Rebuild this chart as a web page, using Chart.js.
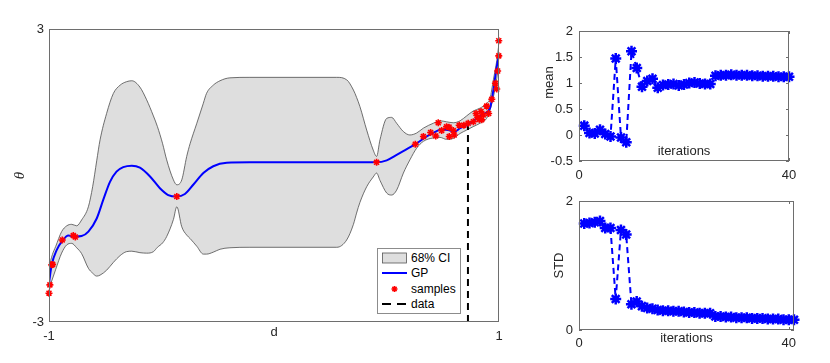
<!DOCTYPE html>
<html>
<head>
<meta charset="utf-8">
<script src="https://cdn.jsdelivr.net/npm/chart.js@4.4.1/dist/chart.umd.min.js"></script>
<style>
  body { margin: 0; background: #fff; }
  #wrap { position: relative; width: 830px; height: 363px; overflow: hidden; }
  #wrap canvas { position: absolute; }
  #legend {
    position: absolute; left: 377px; top: 248px; width: 84px; height: 66px;
    box-sizing: border-box; border: 1px solid #8c8c8c; background: #fff;
    padding-top: 1px; font: 12px "Liberation Sans", Arial, sans-serif; color: #000;
  }
  #legend .row { display: flex; align-items: center; height: 15.5px; }
  #legend svg { margin: 0 4px 0 4px; flex: none; }
</style>
</head>
<body>
<div id="wrap">
  <canvas id="gpChart" width="520" height="363" style="left:0;top:0"></canvas>
  <canvas id="meanChart" width="310" height="180" style="left:520px;top:0"></canvas>
  <canvas id="stdChart" width="310" height="183" style="left:520px;top:180px"></canvas>
  <div id="legend"></div>
</div>
<script>
// ---- GP panel data ----
const gpD = [-1.0, -0.988, -0.966, -0.941, -0.914, -0.884, -0.855, -0.825, -0.788, -0.759, -0.729, -0.70,
  -0.67, -0.632, -0.596, -0.551, -0.507, -0.47, -0.432, -0.396, -0.359, -0.314, -0.27, -0.21, -0.107,
  0.456, 0.501, 0.545, 0.59, 0.628, 0.679, 0.723, 0.745, 0.774, 0.803, 0.827, 0.868, 0.901, 0.93,
  0.96, 0.975, 0.99, 1.0];
const gpMean = [-2.20, -1.83, -1.53, -1.34, -1.23, -1.25, -1.24, -1.15, -0.88, -0.50, -0.13, 0.08,
  0.17, 0.20, 0.16, -0.02, -0.26, -0.40, -0.43, -0.38, -0.19, 0.05, 0.19, 0.26, 0.27,
  0.27, 0.31, 0.42, 0.54, 0.64, 0.80, 0.91, 0.94, 0.93, 0.90, 0.97, 1.05, 1.17, 1.26,
  1.38, 1.75, 2.23, 2.47];

const ciD = [-1.0, -0.985, -0.97, -0.944, -0.921, -0.899, -0.877, -0.855, -0.825, -0.806, -0.788, -0.773,
  -0.744, -0.714, -0.684, -0.656, -0.632, -0.596, -0.566, -0.536, -0.518, -0.495, -0.477, -0.447, -0.432,
  -0.41, -0.388, -0.373, -0.343, -0.314, -0.30, -0.27, -0.24, -0.196, -0.107, 0.279, 0.323, 0.353, 0.367,
  0.382, 0.412, 0.441, 0.456, 0.471, 0.501, 0.523, 0.545, 0.575, 0.604, 0.634, 0.664, 0.708, 0.738,
  0.767, 0.797, 0.827, 0.856, 0.885, 0.916, 0.945, 0.96, 0.975, 0.99, 1.0];
const ciUpper = [-1.87, -1.62, -1.45, -1.15, -1.03, -1.00, -1.03, -0.91, -0.64, -0.23, 0.30, 0.73,
  1.27, 1.68, 1.85, 1.92, 1.94, 1.81, 1.55, 1.22, 1.00, 0.65, 0.32, -0.09, -0.19,
  -0.09, 0.39, 0.65, 1.07, 1.48, 1.68, 1.85, 1.94, 2.00, 2.01, 2.01, 1.96, 1.75, 1.60,
  1.41, 0.93, 0.52, 0.39, 0.73, 1.17, 1.19, 1.07, 0.90, 0.83, 0.87, 0.97, 1.07, 1.12,
  1.10, 1.08, 1.12, 1.22, 1.32, 1.38, 1.48, 1.58, 1.96, 2.35, 2.71];
const ciLower = [-2.32, -2.12, -1.92, -1.59, -1.42, -1.39, -1.48, -1.60, -1.90, -2.00, -2.06, -2.04,
  -1.94, -1.78, -1.64, -1.56, -1.55, -1.58, -1.59, -1.56, -1.47, -1.38, -1.25, -0.90, -0.64,
  -1.05, -1.22, -1.29, -1.45, -1.61, -1.61, -1.57, -1.51, -1.48, -1.47, -1.47, -1.32, -1.00, -0.77,
  -0.55, -0.23, -0.03, 0.05, -0.10, -0.36, -0.40, -0.30, 0.05, 0.32, 0.56, 0.70, 0.77, 0.78,
  0.74, 0.76, 0.86, 0.93, 1.00, 1.07, 1.17, 1.34, 1.61, 1.98, 2.37];

const sampleD = [-1.0, -0.996, -0.988, -0.984, -0.941, -0.892, -0.883, -0.432, 0.456, 0.628, 0.664, 0.696,
  0.719, 0.730, 0.745, 0.767, 0.778, 0.779, 0.797, 0.801, 0.823, 0.844, 0.863, 0.886, 0.898, 0.905,
  0.912, 0.920, 0.923, 0.930, 0.945, 0.954, 0.968, 0.984, 0.990, 0.994, 0.999, 0.999];
const sampleTheta = [-2.41, -2.24, -1.83, -1.82, -1.32, -1.23, -1.26, -0.43, 0.27, 0.64, 0.80, 0.88,
  0.81, 1.08, 0.92, 1.00, 0.99, 0.80, 0.92, 0.83, 1.03, 1.03, 1.07, 1.10, 1.27, 1.19,
  1.15, 1.31, 1.14, 1.24, 1.42, 1.27, 1.56, 1.89, 1.77, 2.14, 2.45, 2.76];

const dataLineD = [0.862, 0.862];
const dataLineTheta = [-3, 1.03];

const gpXTicks = [-1, 1];
const gpYTicks = [-3, 3];
const legendLabels = ["68% CI", "GP", "samples", "data"];

// ---- iteration panels ----
const meanIter = [1, 2, 3, 4, 5, 6, 7, 8, 9, 10, 11, 12, 13, 14, 15, 16, 17, 18, 19, 20,
  21, 22, 23, 24, 25, 26, 27, 28, 29, 30, 31, 32, 33, 34, 35, 36, 37, 38, 39, 40];
const meanVals = [0.18, 0.04, 0.03, 0.10, 0.02, -0.03, 1.47, -0.05, -0.14, 1.61, 1.29, 0.93, 1.04, 1.08,
  0.91, 0.96, 0.97, 0.98, 0.95, 0.97, 1.00, 1.01, 0.99, 0.98, 0.98, 1.14, 1.15, 1.15, 1.16, 1.15,
  1.15, 1.15, 1.14, 1.14, 1.13, 1.13, 1.13, 1.12, 1.12, 1.12];
const stdIter = [1, 2, 3, 4, 5, 6, 7, 8, 9, 10, 11, 12, 13, 14, 15, 16, 17, 18, 19, 20,
  21, 22, 23, 24, 25, 26, 27, 28, 29, 30, 31, 32, 33, 34, 35, 36, 37, 38, 39, 40, 41];
const stdVals = [1.65, 1.66, 1.67, 1.69, 1.58, 1.58, 0.48, 1.55, 1.48, 0.40, 0.44, 0.37, 0.34, 0.33,
  0.31, 0.30, 0.30, 0.29, 0.29, 0.28, 0.27, 0.27, 0.26, 0.26, 0.26, 0.21, 0.21, 0.20, 0.20, 0.19,
  0.19, 0.19, 0.18, 0.18, 0.18, 0.17, 0.17, 0.17, 0.16, 0.16, 0.16];
const meanXTicks = [0, 40];
const meanYTicks = [-0.5, 0, 0.5, 1, 1.5, 2];
const stdXTicks = [0, 40];
const stdYTicks = [0, 2];

const FONT = '"Liberation Sans", Arial, sans-serif';
Chart.defaults.font.family = FONT;
Chart.defaults.font.size = 13;
Chart.defaults.color = "#262626";

const pts = (xs, ys) => xs.map((x, i) => ({ x: x, y: ys[i] }));

// fixed axis sizes so the plot boxes land where the figure has them
function fixSize(w, h) {
  return function (scale) {
    if (w != null) scale.width = w;
    if (h != null) scale.height = h;
    scale.paddingLeft = scale.paddingRight = scale.paddingTop = scale.paddingBottom = 0;
  };
}
const setTicks = (vals) => (scale) => { scale.ticks = vals.map((v) => ({ value: v })); };

// box around the axes + short inward tick marks (matlab look)
const boxPlugin = {
  id: "box",
  afterDatasetsDraw(chart, args, opts) {
    const { ctx, chartArea: a, scales } = chart;
    const len = opts.tick || 0;
    ctx.save();
    ctx.strokeStyle = "#6e6e6e";
    ctx.lineWidth = 1;
    ctx.strokeRect(a.left + 0.5, a.top + 0.5, a.right - a.left - 1, a.bottom - a.top - 1);
    if (len) {
      ctx.beginPath();
      scales.x.ticks.forEach((t) => {
        const px = Math.round(scales.x.getPixelForValue(t.value)) + 0.5;
        ctx.moveTo(px, a.bottom); ctx.lineTo(px, a.bottom - len);
        ctx.moveTo(px, a.top); ctx.lineTo(px, a.top + len);
      });
      scales.y.ticks.forEach((t) => {
        const py = Math.round(scales.y.getPixelForValue(t.value)) + 0.5;
        ctx.moveTo(a.left, py); ctx.lineTo(a.left + len, py);
        ctx.moveTo(a.right, py); ctx.lineTo(a.right - len, py);
      });
      ctx.stroke();
    }
    ctx.restore();
  }
};

// rotated side label where matlab put it (not centred on the axis)
const sideLabel = {
  id: "sideLabel",
  afterDraw(chart, args, opts) {
    if (!opts.text) return;
    const ctx = chart.ctx;
    ctx.save();
    ctx.translate(opts.x, opts.y);
    ctx.rotate(-Math.PI / 2);
    ctx.font = "13px " + FONT;
    ctx.fillStyle = "#262626";
    ctx.textAlign = "center";
    ctx.textBaseline = "middle";
    ctx.fillText(opts.text, 0, 0);
    ctx.restore();
  }
};

const common = {
  responsive: false,
  animation: false,
  devicePixelRatio: 1,
  events: [],
  plugins: { legend: { display: false }, tooltip: { enabled: false } }
};

// ---- main GP plot ----
new Chart(document.getElementById("gpChart"), {
  type: "line",
  data: {
    datasets: [
      { label: legendLabels[2], data: pts(sampleD, sampleTheta), showLine: false, order: 0, clip: false,
        pointStyle: "star", pointRadius: 3.5, pointBorderWidth: 1.6, pointBorderColor: "#ff0000", pointBackgroundColor: "#ff0000" },
      { label: legendLabels[1], data: pts(gpD, gpMean), order: 1, borderColor: "#0000ff", borderWidth: 2,
        pointRadius: 0, cubicInterpolationMode: "monotone", fill: false },
      { label: legendLabels[3], data: pts(dataLineD, dataLineTheta), order: 2, borderColor: "#000",
        borderWidth: 2, borderDash: [7, 5], pointRadius: 0, fill: false },
      { label: "upper", data: pts(ciD, ciUpper), order: 3, borderColor: "#4d4d4d", borderWidth: 0.8,
        pointRadius: 0, cubicInterpolationMode: "monotone", fill: false },
      { label: legendLabels[0], data: pts(ciD, ciLower), order: 4, borderColor: "#4d4d4d", borderWidth: 0.8,
        pointRadius: 0, cubicInterpolationMode: "monotone", fill: "-1", backgroundColor: "#dedede" }
    ]
  },
  options: {
    ...common,
    layout: { padding: { top: 29, right: 21, left: 0, bottom: 0 } },
    scales: {
      x: {
        type: "linear", min: -1, max: 1,
        afterBuildTicks: setTicks(gpXTicks), afterFit: fixSize(null, 41),
        grid: { display: false, drawTicks: false }, border: { display: false },
        ticks: { padding: 7, callback: (v) => String(v) },
        title: { display: true, text: "d", padding: { top: 0, bottom: 22.5 } }
      },
      y: {
        type: "linear", min: -3, max: 3,
        afterBuildTicks: setTicks(gpYTicks), afterFit: fixSize(49, null),
        grid: { display: false, drawTicks: false }, border: { display: false },
        ticks: { padding: 5, callback: (v) => String(v) },
        title: { display: true, text: "θ", font: { family: '"Liberation Serif", serif', size: 15, style: "italic" },
          padding: { top: 11, bottom: 0 } }
      }
    },
    plugins: { ...common.plugins, box: { tick: 0 } }
  },
  plugins: [boxPlugin]
});

// ---- legend (html) ----
const sym = [
  '<svg width="25" height="12"><rect x="0.5" y="1" width="24" height="10" fill="#dedede" stroke="#555" stroke-width="0.8"/></svg>',
  '<svg width="25" height="12"><line x1="0" y1="6" x2="25" y2="6" stroke="#0000ff" stroke-width="2"/></svg>',
  '<svg width="25" height="12"><g stroke="#ff0000" stroke-width="1.6"><line x1="12.5" y1="3" x2="12.5" y2="9"/><line x1="9.5" y1="6" x2="15.5" y2="6"/><line x1="10.4" y1="3.9" x2="14.6" y2="8.1"/><line x1="14.6" y1="3.9" x2="10.4" y2="8.1"/></g></svg>',
  '<svg width="25" height="12"><line x1="0" y1="6" x2="25" y2="6" stroke="#000" stroke-width="2" stroke-dasharray="9 6"/></svg>'
];
document.getElementById("legend").innerHTML = legendLabels
  .map((t, i) => '<div class="row">' + sym[i] + "<span>" + t + "</span></div>")
  .join("");

// ---- iteration panels ----
function iterChart(id, xs, ys, xmax, ymin, ymax, xTicks, yTicks, size, labels) {
  return new Chart(document.getElementById(id), {
    type: "line",
    data: {
      datasets: [{
        data: pts(xs, ys), clip: false,
        borderColor: "#0000ff", borderWidth: 2, borderDash: [6, 4],
        pointStyle: "star", pointRadius: 5.5, pointBorderWidth: 2.5,
        pointBorderColor: "#0000ff", pointBackgroundColor: "#0000ff"
      }]
    },
    options: {
      ...common,
      layout: { padding: size.pad },
      scales: {
        x: {
          type: "linear", min: 0, max: xmax,
          afterBuildTicks: setTicks(xTicks), afterFit: fixSize(null, size.xh),
          grid: { display: false, drawTicks: false }, border: { display: false },
          ticks: { padding: size.xpad, callback: (v) => String(v) },
          title: { display: true, text: "iterations", padding: { top: 0, bottom: labels.xTitlePad } }
        },
        y: {
          type: "linear", min: ymin, max: ymax,
          afterBuildTicks: setTicks(yTicks), afterFit: fixSize(59, null),
          grid: { display: false, drawTicks: false }, border: { display: false },
          ticks: { padding: 6, callback: (v) => String(v) },
          title: { display: labels.yTitle != null, text: labels.yTitle || "", padding: { top: 32, bottom: 0 } }
        }
      },
      plugins: { ...common.plugins, box: { tick: 3 }, sideLabel: labels.side || {} }
    },
    plugins: [boxPlugin, sideLabel]
  });
}

iterChart("meanChart", meanIter, meanVals, 40, -0.5, 2, meanXTicks, meanYTicks,
  { pad: { top: 31, right: 41, left: 0, bottom: 0 }, xh: 19, xpad: 7 },
  { xTitlePad: 20.5, side: { text: "mean", x: 29.5, y: 82.5 } });

iterChart("stdChart", stdIter, stdVals, 41, 0, 2, stdXTicks, stdYTicks,
  { pad: { top: 21, right: 36, left: 0, bottom: 0 }, xh: 33, xpad: 6 },
  { xTitlePad: 16.5, yTitle: "STD" });
</script>
</body>
</html>
